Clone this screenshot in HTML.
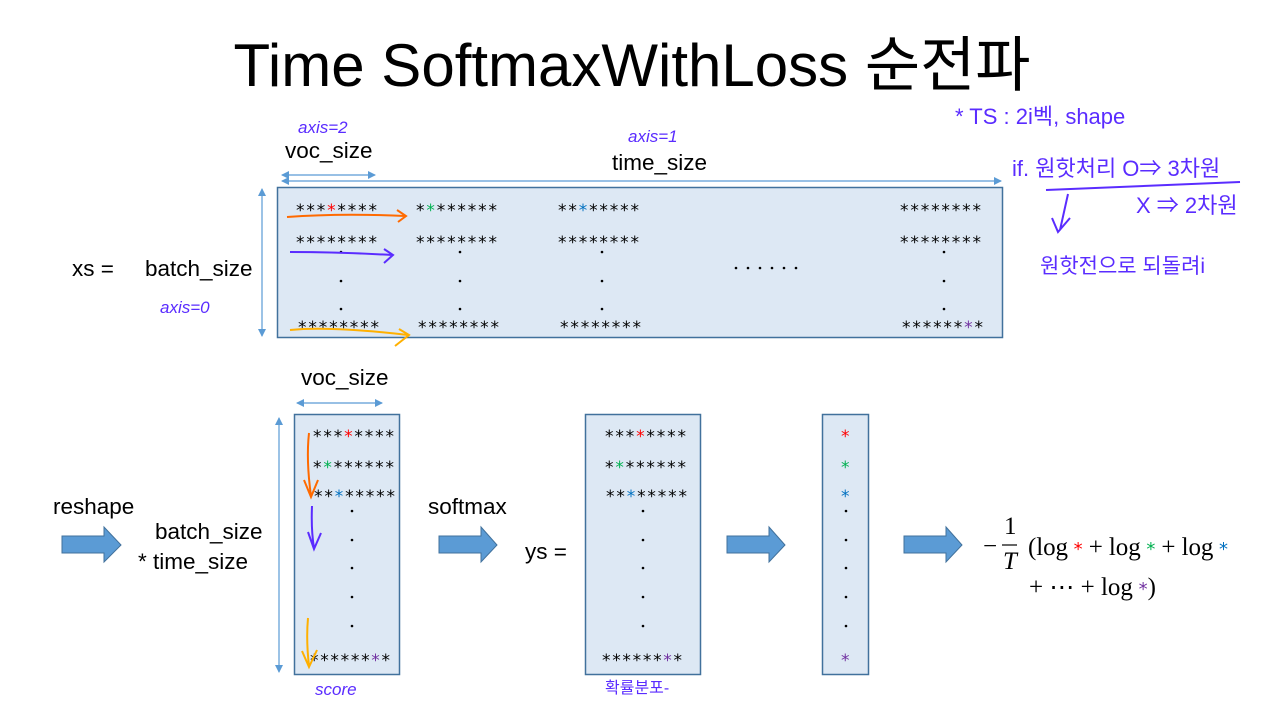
<!DOCTYPE html>
<html><head><meta charset="utf-8"><style>
html,body{margin:0;padding:0;background:#fff;}
svg{display:block;}
.s{font-family:"Liberation Sans","Noto Sans CJK KR",sans-serif;fill:#000;}
.st{font-family:"DejaVu Sans",sans-serif;font-size:17px;fill:#000;}
.h{font-family:"Liberation Sans","Noto Sans CJK KR",sans-serif;fill:#5a2cff;}
.m{font-family:"Liberation Serif",serif;font-size:25px;fill:#000;}
</style></head><body>
<svg width="1266" height="705" viewBox="0 0 1266 705" xmlns="http://www.w3.org/2000/svg">
<defs>
<marker id="ab" markerWidth="8" markerHeight="8" refX="7" refY="4" orient="auto-start-reverse" markerUnits="userSpaceOnUse"><path d="M0,0 L8,4 L0,8 Z" fill="#5b9bd5"/></marker>
</defs>
<text x="632" y="86" text-anchor="middle" class="s" font-size="60" textLength="797" lengthAdjust="spacingAndGlyphs">Time SoftmaxWithLoss 순전파</text>

<text x="285" y="158" class="s" font-size="22.5">voc_size</text>
<text x="612" y="170" class="s" font-size="22.5">time_size</text>
<line x1="282" y1="175" x2="375" y2="175" stroke="#5b9bd5" stroke-width="1.2" marker-start="url(#ab)" marker-end="url(#ab)"/>
<line x1="282" y1="181" x2="1001" y2="181" stroke="#5b9bd5" stroke-width="1.2" marker-start="url(#ab)" marker-end="url(#ab)"/>
<line x1="262" y1="189" x2="262" y2="336" stroke="#5b9bd5" stroke-width="1.2" marker-start="url(#ab)" marker-end="url(#ab)"/>
<rect x="277.5" y="187.5" width="725" height="150" fill="#dde8f4" stroke="#41719c" stroke-width="1.5"/>
<text x="72" y="276" class="s" font-size="22.5">xs  =</text>
<text x="145" y="276" class="s" font-size="22.5">batch_size</text>

<g class="st">
<text x="296" y="216" textLength="81" lengthAdjust="spacing">***<tspan fill="#ff0000">*</tspan>****</text>
<text x="416" y="216" textLength="81" lengthAdjust="spacing">*<tspan fill="#00b050">*</tspan>******</text>
<text x="558" y="216" textLength="81" lengthAdjust="spacing">**<tspan fill="#0070c0">*</tspan>*****</text>
<text x="900" y="216" textLength="81" lengthAdjust="spacing">********</text>
<text x="296" y="248" textLength="81" lengthAdjust="spacing">********</text>
<text x="416" y="248" textLength="81" lengthAdjust="spacing">********</text>
<text x="558" y="248" textLength="81" lengthAdjust="spacing">********</text>
<text x="900" y="248" textLength="81" lengthAdjust="spacing">********</text>
<text x="298" y="333" textLength="81" lengthAdjust="spacing">********</text>
<text x="418" y="333" textLength="81" lengthAdjust="spacing">********</text>
<text x="560" y="333" textLength="81" lengthAdjust="spacing">********</text>
<text x="902" y="333" textLength="81" lengthAdjust="spacing">******<tspan fill="#7030a0">*</tspan>*</text>
</g>
<g fill="#000">
<circle cx="341" cy="252" r="1.3"/><circle cx="341" cy="281" r="1.3"/><circle cx="341" cy="309" r="1.3"/>
<circle cx="460" cy="252" r="1.3"/><circle cx="460" cy="281" r="1.3"/><circle cx="460" cy="309" r="1.3"/>
<circle cx="602" cy="252" r="1.3"/><circle cx="602" cy="281" r="1.3"/><circle cx="602" cy="309" r="1.3"/>
<circle cx="944" cy="252" r="1.3"/><circle cx="944" cy="281" r="1.3"/><circle cx="944" cy="309" r="1.3"/>
<circle cx="736" cy="268" r="1.3"/><circle cx="748" cy="268" r="1.3"/><circle cx="760" cy="268" r="1.3"/><circle cx="772" cy="268" r="1.3"/><circle cx="784" cy="268" r="1.3"/><circle cx="796" cy="268" r="1.3"/>
</g>
<path d="M287,217 Q340,213 405,216 M397,210 L406,216 L398,222" fill="none" stroke="#ff6a00" stroke-width="2"/>
<path d="M290,252 Q340,252 392,255 M384,249 L393,255 L384,263" fill="none" stroke="#5a2cff" stroke-width="2"/>
<path d="M290,330 Q330,326 408,335 M399,329 L409,335 L395,346" fill="none" stroke="#ffb000" stroke-width="2"/>

<text x="298" y="133" class="h" font-size="17" font-style="italic">axis=2</text>
<text x="628" y="142" class="h" font-size="17" font-style="italic">axis=1</text>
<text x="160" y="313" class="h" font-size="17" font-style="italic">axis=0</text>
<text x="955" y="124" class="h" font-size="22">* TS : 2i벡, shape</text>
<text x="1012" y="176" class="h" font-size="22">if. 원핫처리 O⇒ 3차원</text>
<line x1="1046" y1="190" x2="1240" y2="182" stroke="#5a2cff" stroke-width="2"/>
<text x="1136" y="213" class="h" font-size="22">X ⇒ 2차원</text>
<path d="M1068,194 L1060,230 M1052,218 L1058,232 L1070,218" fill="none" stroke="#5a2cff" stroke-width="2"/>
<text x="1040" y="273" class="h" font-size="21">원핫전으로 되돌려i</text>

<text x="301" y="385" class="s" font-size="22.5">voc_size</text>
<line x1="297" y1="403" x2="382" y2="403" stroke="#5b9bd5" stroke-width="1.2" marker-start="url(#ab)" marker-end="url(#ab)"/>
<line x1="279" y1="418" x2="279" y2="672" stroke="#5b9bd5" stroke-width="1.2" marker-start="url(#ab)" marker-end="url(#ab)"/>
<rect x="294.5" y="414.5" width="105" height="260" fill="#dde8f4" stroke="#41719c" stroke-width="1.5"/>
<rect x="585.5" y="414.5" width="115" height="260" fill="#dde8f4" stroke="#41719c" stroke-width="1.5"/>
<rect x="822.5" y="414.5" width="46" height="260" fill="#dde8f4" stroke="#41719c" stroke-width="1.5"/>

<g class="st">
<text x="313" y="442" textLength="81" lengthAdjust="spacing">***<tspan fill="#ff0000">*</tspan>****</text>
<text x="313" y="473" textLength="81" lengthAdjust="spacing">*<tspan fill="#00b050">*</tspan>******</text>
<text x="314" y="502" textLength="81" lengthAdjust="spacing">**<tspan fill="#0070c0">*</tspan>*****</text>
<text x="310" y="666" textLength="80" lengthAdjust="spacing">******<tspan fill="#7030a0">*</tspan>*</text>
<text x="605" y="442" textLength="81" lengthAdjust="spacing">***<tspan fill="#ff0000">*</tspan>****</text>
<text x="605" y="473" textLength="81" lengthAdjust="spacing">*<tspan fill="#00b050">*</tspan>******</text>
<text x="606" y="502" textLength="81" lengthAdjust="spacing">**<tspan fill="#0070c0">*</tspan>*****</text>
<text x="602" y="666" textLength="80" lengthAdjust="spacing">******<tspan fill="#7030a0">*</tspan>*</text>
<text x="841" y="442" fill="#ff0000">*</text>
<text x="841" y="473" fill="#00b050">*</text>
<text x="841" y="502" fill="#0070c0">*</text>
<text x="841" y="666" fill="#7030a0">*</text>
</g>
<g fill="#000">
<circle cx="352" cy="511" r="1.3"/><circle cx="352" cy="540" r="1.3"/><circle cx="352" cy="568" r="1.3"/><circle cx="352" cy="597" r="1.3"/><circle cx="352" cy="626" r="1.3"/>
<circle cx="643" cy="511" r="1.3"/><circle cx="643" cy="540" r="1.3"/><circle cx="643" cy="568" r="1.3"/><circle cx="643" cy="597" r="1.3"/><circle cx="643" cy="626" r="1.3"/>
<circle cx="846" cy="511" r="1.3"/><circle cx="846" cy="540" r="1.3"/><circle cx="846" cy="568" r="1.3"/><circle cx="846" cy="597" r="1.3"/><circle cx="846" cy="626" r="1.3"/>
</g>
<path d="M309,433 Q306,460 311,496 M304,480 L311,497 L318,480" fill="none" stroke="#ff6a00" stroke-width="2"/>
<path d="M312,506 Q311,530 314,548 M308,532 L314,549 L321,533" fill="none" stroke="#5a2cff" stroke-width="2"/>
<path d="M308,618 Q306,640 309,666 M302,651 L309,667 L317,650" fill="none" stroke="#ffb000" stroke-width="2"/>
<text x="315" y="695" class="h" font-size="17" font-style="italic">score</text>
<text x="605" y="693" class="h" font-size="16">확률분포-</text>

<g fill="#5b9bd5" stroke="#41719c" stroke-width="1">
<path d="M62,536 H104 V527 L121,545 L104,562 V553 H62 Z"/>
<path d="M439,536 H481 V527 L497,545 L481,562 V553 H439 Z"/>
<path d="M727,536 H769 V527 L785,545 L769,562 V553 H727 Z"/>
<path d="M904,536 H946 V527 L962,545 L946,562 V553 H904 Z"/>
</g>
<text x="53" y="514" class="s" font-size="22.5">reshape</text>
<text x="155" y="539" class="s" font-size="22.5">batch_size</text>
<text x="138" y="569" class="s" font-size="22.5">* time_size</text>
<text x="428" y="514" class="s" font-size="22.5">softmax</text>
<text x="525" y="559" class="s" font-size="22.5">ys  =</text>

<text x="983" y="554" class="m">−</text>
<text x="1004" y="534" class="m">1</text>
<line x1="1002" y1="545" x2="1017" y2="545" stroke="#000" stroke-width="1.2"/>
<text x="1003" y="569" class="m" font-style="italic">T</text>
<text x="1028" y="555" class="m" textLength="200" lengthAdjust="spacing">(log<tspan fill="#ff0000" font-family="DejaVu Sans" font-size="18"> *</tspan> + log<tspan fill="#00b050" font-family="DejaVu Sans" font-size="18"> *</tspan> + log<tspan fill="#0070c0" font-family="DejaVu Sans" font-size="18"> *</tspan></text>
<text x="1029" y="595" class="m" textLength="127" lengthAdjust="spacing">+ ⋯ + log<tspan fill="#7030a0" font-family="DejaVu Sans" font-size="18"> *</tspan>)</text>
</svg>
</body></html>
